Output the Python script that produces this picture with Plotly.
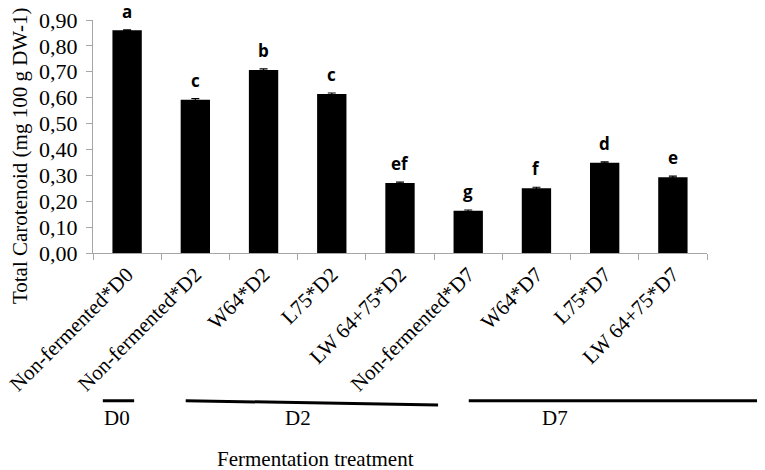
import plotly.graph_objects as go

# data
treatments = ['Non-fermented*D0', 'Non-fermented*D2', 'W64*D2', 'L75*D2', 'LW 64+75*D2',
              'Non-fermented*D7', 'W64*D7', 'L75*D7', 'LW 64+75*D7']
carotenoid = [0.860, 0.592, 0.707, 0.614, 0.270, 0.163, 0.250, 0.349, 0.293]
errors = [0.002, 0.004, 0.004, 0.004, 0.004, 0.003, 0.004, 0.003, 0.004]
letters = ['a', 'c', 'b', 'c', 'ef', 'g', 'f', 'd', 'e']
y_ticks = [0.0, 0.1, 0.2, 0.3, 0.4, 0.5, 0.6, 0.7, 0.8, 0.9]
y_tick_text = ['{:.2f}'.format(v).replace('.', ',') for v in y_ticks]
groups = ['D0', 'D2', 'D7']

SERIF = 'Liberation Serif'
AXIS_GREY = '#a6a6a6'


def make_plot():
    bars = go.Bar(
        x=treatments,
        y=carotenoid,
        marker=dict(color='black', line=dict(width=0)),
        error_y=dict(type='data', array=errors, color='black', thickness=1.2, width=4),
        showlegend=False,
    )

    fig = go.Figure(data=[bars])

    # significance letters above the bars
    for name, val, err, let in zip(treatments, carotenoid, errors, letters):
        fig.add_annotation(
            x=name, y=val + err, text=let, showarrow=False,
            yanchor='bottom', yshift=5,
            font=dict(family='Open Sans', size=17, color='black', weight='bold'),
        )

    # group lines under the category labels (paper coords)
    line_style = dict(color='black', width=3)
    fig.add_shape(type='line', xref='paper', yref='paper',
                  x0=0.016, x1=0.067, y0=-0.634, y1=-0.634, line=line_style)
    fig.add_shape(type='line', xref='paper', yref='paper',
                  x0=0.151, x1=0.562, y0=-0.634, y1=-0.652, line=line_style)
    fig.add_shape(type='line', xref='paper', yref='paper',
                  x0=0.612, x1=1.088, y0=-0.634, y1=-0.634, line=line_style)

    for label, xpos in zip(groups, [0.039, 0.334, 0.752]):
        fig.add_annotation(
            xref='paper', yref='paper', x=xpos, y=-0.708, text=label,
            xanchor='center', yanchor='middle',
            showarrow=False, font=dict(family=SERIF, size=21, color='black'),
        )

    fig.add_annotation(
        xref='paper', yref='paper', x=0.362, y=-0.885, text='Fermentation treatment',
        xanchor='center', yanchor='middle',
        showarrow=False, font=dict(family=SERIF, size=21, color='black'),
    )

    # y title as annotation so it can sit higher than the plot centre
    fig.add_annotation(
        xref='paper', yref='paper', x=-0.119, y=0.42, textangle=-90,
        xanchor='center', yanchor='middle',
        text='Total Carotenoid (mg 100 g DW-1)', showarrow=False,
        font=dict(family=SERIF, size=21, color='black'),
    )

    # page body has an 8px margin, so the figure is 8px smaller than the window
    fig.update_layout(
        width=757,
        height=462,
        plot_bgcolor='white',
        paper_bgcolor='white',
        bargap=0.57,
        margin=dict(l=85, r=58, t=12, b=216.5, pad=0),
        font=dict(family=SERIF, size=21, color='black'),
        xaxis=dict(
            type='category',
            showline=True,
            linecolor=AXIS_GREY,
            linewidth=1,
            ticks='outside',
            tickson='boundaries',
            ticklen=6,
            tickcolor=AXIS_GREY,
            tickangle=-45,
            tickfont=dict(family=SERIF, size=21, color='black'),
            showgrid=False,
            zeroline=False,
            automargin=False,
        ),
        yaxis=dict(
            range=[0, 0.9],
            tickmode='array',
            tickvals=y_ticks,
            ticktext=y_tick_text,
            ticklabeloverflow='allow',
            ticklabelstandoff=4,
            showline=True,
            linecolor=AXIS_GREY,
            linewidth=1,
            ticks='outside',
            ticklen=6,
            tickcolor=AXIS_GREY,
            tickfont=dict(family=SERIF, size=22, color='black'),
            showgrid=False,
            zeroline=False,
            automargin=False,
        ),
    )

    fig.write_html('out.html')


if __name__ == '__main__':
    make_plot()
